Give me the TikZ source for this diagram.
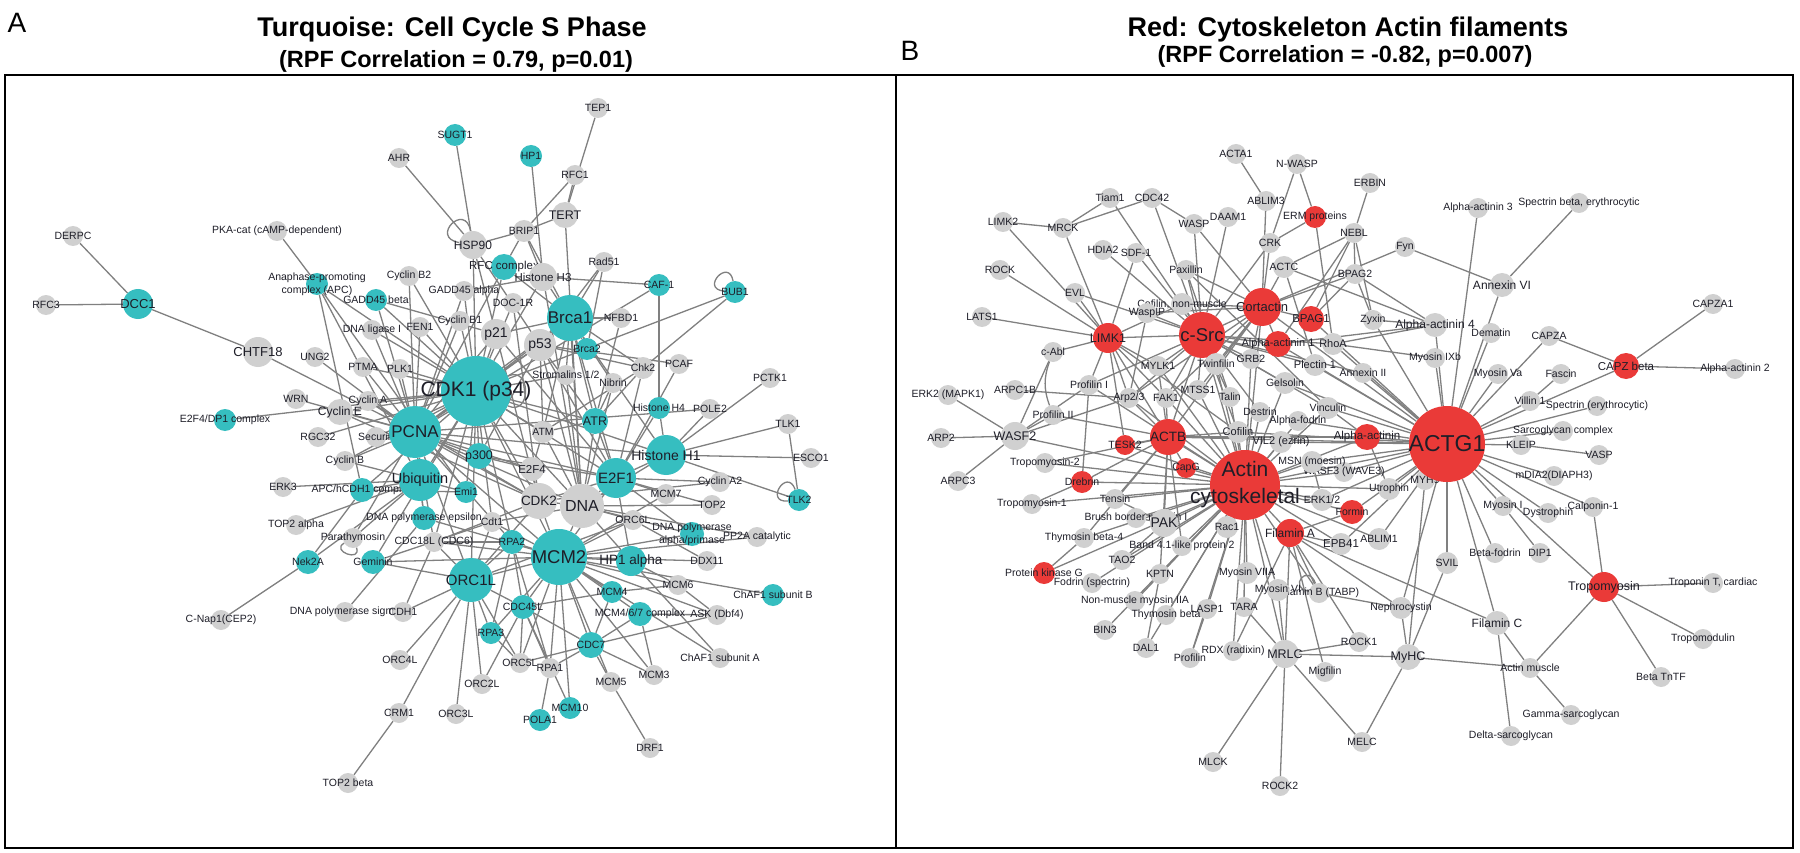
\documentclass[tikz,border=0pt]{standalone}
\usepackage{fontspec}
\setmainfont{Liberation Sans}
\usetikzlibrary{backgrounds}
\definecolor{nodegray}{RGB}{208,208,208}
\definecolor{turq}{RGB}{54,190,192}
\definecolor{redn}{RGB}{234,58,56}
\definecolor{edgegray}{RGB}{128,128,128}
\definecolor{labtext}{RGB}{30,30,40}
\tikzset{
gn/.style={shape=circle, fill=nodegray, draw=none, inner sep=0, minimum size=20pt},
tq/.style={gn, fill=turq}, rd/.style={gn, fill=redn}, sz/.style={minimum size=#1pt},
lbl/.style={font=\fontsize{10.5}{13}\selectfont, text=labtext, align=center, inner sep=0},
lab/.style={label={[lbl]center:#1}},
labf/.style 2 args={label={[lbl, font=\fontsize{#1}{#1}\selectfont]center:#2}},
link/.style={draw=edgegray, line width=1.3pt},
title/.style={font=\fontsize{27}{27}\selectfont\bfseries, anchor=base},
subtitle/.style={font=\fontsize{23.5}{24}\selectfont\bfseries, anchor=base}}

\begin{document}
\begin{tikzpicture}[x=1pt, y=-1pt]
\useasboundingbox (0,0) rectangle (1800,853);
\node[font=\fontsize{28}{28}\selectfont] (tagA) at (17,23) {A};
\node[font=\fontsize{28}{28}\selectfont] (tagB) at (910,51) {B};
\node[title] (titleA) at (452,37) {Turquoise: Cell Cycle S Phase};
\node[subtitle] (subA) at (456,68) {(RPF Correlation = 0.79, p=0.01)};
\node[title] (titleB) at (1348,37) {Red: Cytoskeleton Actin filaments};
\node[subtitle] (subB) at (1345,63) {(RPF Correlation = -0.82, p=0.007)};
\draw[line width=2.2pt] (5,75) rectangle (896,848);
\draw[line width=2.2pt] (896,75) rectangle (1793,848);

% panel A
\node[gn, lab=DERPC] (derpc) at (73,236) {};
\node[gn, lab={PKA-cat (cAMP-dependent)}] (pka) at (277,231) {};
\node[gn, lab=RFC3] (rfc3) at (46,305) {};
\node[tq, sz=30, labf={13}{DCC1}] (dcc1) at (138,304) {};
\node[tq, sz=22, lab={Anaphase-promoting\\complex (APC)}] (apc) at (317,284) {};
\node[gn, sz=30, labf={13}{CHTF18}] (chtf18) at (258,352) {};
\node[gn, lab=TEP1] (tep1) at (598,108) {};
\node[tq, sz=22, lab=SUGT1] (sugt1) at (455,135) {};
\node[tq, sz=22, lab=HP1] (hp1) at (531,156) {};
\node[gn, lab=AHR] (ahr) at (399,158) {};
\node[gn, lab=RFC1] (rfc1) at (575,175) {};
\node[gn, sz=26, labf={12.5}{TERT}] (tert) at (565,215) {};
\node[gn, sz=22, lab=BRIP1] (brip1) at (524,231) {};
\node[gn, sz=28, labf={12}{HSP90}] (hsp90) at (473,245) {};
\node[tq, sz=26, labf={11.5}{RFC complex}] (rfcc) at (504,267) {};
\node[gn, sz=28, labf={11.5}{Histone H3}] (histh3) at (543,277) {};
\node[gn, lab=Rad51] (rad51) at (604,262) {};
\node[tq, sz=22, lab=CAF-1] (caf1) at (659,285) {};
\node[tq, sz=22, lab=BUB1] (bub1) at (735,292) {};
\node[gn, lab={Cyclin B2}] (cycb2) at (409,276) {};
\node[gn, lab={GADD45 alpha}] (gadda) at (464,291) {};
\node[tq, sz=22, lab={GADD45 beta}] (gaddb) at (376,300) {};
\node[gn, lab=DOC-1R] (doc1r) at (513,303) {};
\node[tq, sz=46, labf={17}{Brca1}] (brca1) at (570,318) {};
\node[gn, lab=NFBD1] (nfbd1) at (621,318) {};
\node[gn, lab=FEN1] (fen1) at (420,327) {};
\node[gn, lab={Cyclin B1}] (cycb1) at (460,321) {};
\node[gn, lab={DNA ligase I}] (dnalig) at (372,330) {};
\node[gn, sz=30, labf={14}{p21}] (p21) at (496,334) {};
\node[gn, sz=32, labf={14}{p53}] (p53) at (540,345) {};
\node[tq, sz=22, lab=Brca2] (brca2) at (587,349) {};
\node[gn, sz=22, lab=Chk2] (chk2) at (643,368) {};
\node[gn, lab=PCAF] (pcaf) at (679,364) {};
\node[gn, lab=UNG2] (ung2) at (315,357) {};
\node[gn, lab=PTMA] (ptma) at (363,367) {};
\node[gn, lab=PLK1] (plk1) at (400,369) {};
\node[gn, lab={Stromalins 1/2}] (strom) at (566,375) {};
\node[gn, lab=Nibrin] (nibrin) at (613,383) {};
\node[gn, lab=PCTK1] (pctk1) at (770,378) {};
\node[gn, lab=WRN] (wrn) at (296,399) {};
\node[gn, lab={Cyclin A}] (cyca) at (368,401) {};
\node[gn, sz=26, labf={12}{Cyclin E}] (cyce) at (340,412) {};
\node[tq, sz=22, lab={E2F4/DP1 complex}] (e2f4dp1) at (225,420) {};
\node[gn, lab=RGC32] (rgc32) at (318,437) {};
\node[gn, lab=Securin] (securin) at (376,437) {};
\node[tq, sz=70, labf={21}{CDK1 (p34)}] (cdk1) at (476,391) {};
\node[tq, sz=52, labf={17}{PCNA}] (pcna) at (415,432) {};
\node[tq, sz=22, lab={Histone H4}] (histh4) at (659,408) {};
\node[gn, lab=POLE2] (pole2) at (710,409) {};
\node[tq, sz=26, labf={12.5}{ATR}] (atr) at (595,421) {};
\node[gn, sz=22, lab=ATM] (atm) at (543,432) {};
\node[gn, lab=TLK1] (tlk1) at (788,424) {};
\node[tq, sz=40, labf={14}{Histone H1}] (histh1) at (666,455) {};
\node[gn, lab=ESCO1] (esco1) at (811,458) {};
\node[tq, sz=26, labf={12.5}{p300}] (p300) at (479,456) {};
\node[gn, sz=24, labf={11.5}{E2F4}] (e2f4) at (532,469) {};
\node[tq, sz=40, labf={15}{E2F1}] (e2f1) at (616,478) {};
\node[gn, lab={Cyclin B}] (cycb) at (345,461) {};
\node[gn, lab=ERK3] (erk3) at (283,487) {};
\node[tq, sz=24, lab={APC/hCDH1 complex}] (apch) at (362,490) {};
\node[tq, sz=42, labf={14.5}{Ubiquitin}] (ubiq) at (420,480) {};
\node[tq, sz=22, lab=Emi1] (emi1) at (466,492) {};
\node[gn, sz=36, labf={13.5}{CDK2}] (cdk2) at (539,501) {};
\node[gn, sz=44, labf={16}{DNA}] (dna) at (582,506) {};
\node[gn, lab={Cyclin A2}] (cyca2) at (720,482) {};
\node[gn, lab=MCM7] (mcm7) at (666,494) {};
\node[gn, lab=TOP2] (top2) at (712,505) {};
\node[tq, sz=22, lab=TLK2] (tlk2) at (799,500) {};
\node[gn, lab={TOP2 alpha}] (top2a) at (296,525) {};
\node[tq, sz=24, lab={DNA polymerase epsilon}] (dnapole) at (424,518) {};
\node[gn, lab=Cdt1] (cdt1) at (492,522) {};
\node[gn, lab=ORC6L] (orc6l) at (633,520) {};
\node[tq, sz=24, lab={DNA polymerase\\alpha/primase}] (dnapola) at (692,534) {};
\node[gn, lab=Parathymosin] (parath) at (353,538) {};
\node[gn, lab={PP2A catalytic}] (pp2a) at (757,537) {};
\node[gn, lab={CDC18L (CDC6)}] (cdc18l) at (434,542) {};
\node[tq, sz=24, lab=RPA2] (rpa2) at (512,542) {};
\node[tq, sz=56, labf={18.5}{MCM2}] (mcm2) at (559,557) {};
\node[tq, sz=30, labf={13.5}{HP1 alpha}] (hp1a) at (631,561) {};
\node[gn, lab=DDX11] (ddx11) at (707,561) {};
\node[tq, sz=24, lab=Nek2A] (nek2a) at (308,562) {};
\node[tq, sz=24, lab=Geminin] (geminin) at (373,562) {};
\node[tq, sz=44, labf={15}{ORC1L}] (orc1l) at (471,580) {};
\node[tq, sz=22, lab=MCM4] (mcm4) at (612,592) {};
\node[gn, lab=MCM6] (mcm6) at (678,585) {};
\node[tq, sz=22, lab={ChAF1 subunit B}] (chaf1b) at (773,595) {};
\node[tq, sz=24, lab=CDC45L] (cdc45l) at (523,607) {};
\node[gn, lab={DNA polymerase sigma}] (dnapols) at (345,612) {};
\node[gn, lab=CDH1] (cdh1) at (403,612) {};
\node[tq, sz=24, lab={MCM4/6/7 complex}] (mcm467) at (640,614) {};
\node[gn, lab={ASK (Dbf4)}] (ask) at (717,615) {};
\node[gn, lab={C-Nap1(CEP2)}] (cnap1) at (221,620) {};
\node[tq, sz=22, lab=RPA3] (rpa3) at (491,633) {};
\node[tq, sz=26, lab=CDC7] (cdc7) at (591,645) {};
\node[gn, lab=ORC4L] (orc4l) at (400,660) {};
\node[gn, lab={ChAF1 subunit A}] (chaf1a) at (720,658) {};
\node[gn, lab=ORC5L] (orc5l) at (520,663) {};
\node[gn, lab=RPA1] (rpa1) at (550,668) {};
\node[gn, lab=MCM3] (mcm3) at (654,675) {};
\node[gn, lab=MCM5] (mcm5) at (611,682) {};
\node[gn, lab=ORC2L] (orc2l) at (482,684) {};
\node[gn, lab=CRM1] (crm1) at (399,713) {};
\node[gn, lab=ORC3L] (orc3l) at (456,714) {};
\node[tq, sz=22, lab=MCM10] (mcm10) at (570,708) {};
\node[tq, sz=22, lab=POLA1] (pola1) at (540,720) {};
\node[gn, lab={TOP2 beta}] (top2b) at (348,783) {};
\node[gn, lab=DRF1] (drf1) at (650,748) {};

% panel B
\node[gn, lab=LIMK2] (limk2) at (1003,222) {};
\node[gn, lab=MRCK] (mrck) at (1063,228) {};
\node[gn, lab=Tiam1] (tiam1) at (1110,198) {};
\node[gn, lab=HDIA2] (hdia2) at (1103,250) {};
\node[gn, lab=ROCK] (rock) at (1000,270) {};
\node[gn, lab=EVL] (evl) at (1075,293) {};
\node[gn, lab=LATS1] (lats1) at (982,317) {};
\node[gn, lab=c-Abl] (cabl) at (1053,352) {};
\node[gn, lab={ERK2 (MAPK1)}] (erk2) at (948,395) {};
\node[gn, lab=ARPC1B] (arpc1b) at (1015,390) {};
\node[gn, lab={Profilin I}] (profi) at (1089,385) {};
\node[gn, lab=ACTA1] (acta1) at (1236,154) {};
\node[gn, lab=N-WASP] (nwasp) at (1297,164) {};
\node[gn, lab=ERBIN] (erbin) at (1370,183) {};
\node[gn, lab=CDC42] (cdc42) at (1152,198) {};
\node[gn, lab=ABLIM3] (ablim3) at (1266,201) {};
\node[rd, sz=22, lab={ERM proteins}] (ermp) at (1315,217) {};
\node[gn, lab=DAAM1] (daam1) at (1228,217) {};
\node[gn, lab=WASP] (wasp) at (1194,224) {};
\node[gn, lab=NEBL] (nebl) at (1354,233) {};
\node[gn, lab=CRK] (crk) at (1270,243) {};
\node[gn, lab=Fyn] (fyn) at (1405,247) {};
\node[gn, lab=SDF-1] (sdf1) at (1136,253) {};
\node[gn, lab=Paxillin] (paxillin) at (1186,270) {};
\node[gn, sz=22, lab=ACTC] (actc) at (1284,267) {};
\node[gn, lab=BPAG2] (bpag2) at (1355,274) {};
\node[gn, sz=22, lab={Cofilin, non-muscle}] (cofnm) at (1182,304) {};
\node[gn, lab=WaspIP] (waspip) at (1147,313) {};
\node[rd, sz=38, labf={13}{Cortactin}] (cortactin) at (1262,307) {};
\node[rd, sz=26, labf={11.5}{BPAG1}] (bpag1) at (1311,319) {};
\node[gn, lab=Zyxin] (zyxin) at (1373,320) {};
\node[gn, sz=24, labf={12}{Alpha-actinin 4}] (aact4) at (1435,325) {};
\node[rd, sz=30, labf={12.5}{LIMK1}] (limk1) at (1108,338) {};
\node[rd, sz=46, labf={18.5}{c-Src}] (csrc) at (1202,335) {};
\node[rd, sz=26, labf={11}{Alpha-actinin 1}] (aact1) at (1278,344) {};
\node[gn, sz=22, labf={11}{RhoA}] (rhoa) at (1333,344) {};
\node[gn, lab=GRB2] (grb2) at (1251,359) {};
\node[gn, lab=MYLK1] (mylk1) at (1158,366) {};
\node[gn, sz=22, lab=Twinfilin] (twinf) at (1216,364) {};
\node[gn, sz=22, labf={11}{Plectin 1}] (plectin) at (1315,365) {};
\node[gn, lab={Myosin IXb}] (myoixb) at (1435,358) {};
\node[gn, lab={Annexin II}] (annii) at (1363,373) {};
\node[gn, sz=22, lab=Gelsolin] (gelsolin) at (1285,383) {};
\node[gn, lab=Arp2/3] (arp23) at (1129,398) {};
\node[gn, lab=FAK1] (fak1) at (1166,398) {};
\node[gn, lab=MTSS1] (mtss1) at (1198,390) {};
\node[gn, lab=Talin] (talin) at (1230,397) {};
\node[gn, lab=Destrin] (destrin) at (1260,412) {};
\node[gn, sz=22, lab=Vinculin] (vinculin) at (1328,408) {};
\node[gn, lab=Alpha-fodrin] (afodrin) at (1298,421) {};
\node[gn, lab={Alpha-actinin 3}] (aact3) at (1478,208) {};
\node[gn, lab={Spectrin beta, erythrocytic}] (spectb) at (1579,203) {};
\node[gn, sz=24, labf={12}{Annexin VI}] (annvi) at (1502,285) {};
\node[gn, lab=CAPZA1] (capza1) at (1713,304) {};
\node[gn, lab=Dematin] (dematin) at (1491,333) {};
\node[gn, lab=CAPZA] (capza) at (1549,336) {};
\node[rd, sz=26, labf={11.5}{CAPZ beta}] (capzb) at (1626,366) {};
\node[gn, lab={Alpha-actinin 2}] (aact2) at (1735,369) {};
\node[gn, lab={Myosin Va}] (myova) at (1498,374) {};
\node[gn, lab=Fascin] (fascin) at (1561,374) {};
\node[gn, lab={Villin 1}] (villin) at (1530,401) {};
\node[gn, lab={Spectrin (erythrocytic)}] (spectr) at (1597,406) {};
\node[gn, lab={Profilin II}] (profii) at (1053,415) {};
\node[gn, lab=ARP2] (arp2) at (941,438) {};
\node[gn, sz=28, labf={12.5}{WASF2}] (wasf2) at (1015,436) {};
\node[gn, lab=Tropomyosin-2] (tropo2) at (1045,463) {};
\node[gn, lab=ARPC3] (arpc3) at (958,481) {};
\node[rd, sz=22, lab=Drebrin] (drebrin) at (1082,482) {};
\node[gn, lab=Tropomyosin-1] (tropo1) at (1032,504) {};
\node[gn, lab=Tensin] (tensin) at (1115,499) {};
\node[gn, lab={Brush border myosin I}] (brush) at (1136,518) {};
\node[gn, lab={Thymosin beta-4}] (thyb4) at (1084,538) {};
\node[rd, sz=22, lab={Protein kinase G}] (pkg) at (1044,573) {};
\node[gn, lab={Fodrin (spectrin)}] (fodrin) at (1092,583) {};
\node[gn, lab={Non-muscle myosin IIA}] (nmm) at (1135,601) {};
\node[gn, lab=BIN3] (bin3) at (1105,630) {};
\node[rd, sz=36, labf={13.5}{ACTB}] (actb) at (1168,437) {};
\node[rd, sz=20, lab=TESK2] (tesk2) at (1125,445) {};
\node[gn, sz=22, labf={11}{Cofilin}] (cofilin) at (1238,432) {};
\node[gn, sz=22, labf={11}{VIL2 (ezrin)}] (vil2) at (1281,442) {};
\node[rd, sz=26, labf={11.5}{Alpha-actinin}] (aact) at (1367,437) {};
\node[rd, sz=20, lab=CapG] (capg) at (1186,468) {};
\node[gn, lab={WASF3 (WAVE3)}] (wasf3) at (1344,472) {};
\node[gn, sz=22, lab={MSN (moesin)}] (msn) at (1312,462) {};
\node[gn, lab=MYH9] (myh) at (1425,480) {};
\node[rd, sz=76, labf={23}{ACTG1}] (actg1) at (1447,444) {};
\node[gn, sz=22, lab=Utrophin] (utroph) at (1389,489) {};
\node[gn, sz=22, lab=ERK1/2] (erk12) at (1322,500) {};
\node[rd, sz=24, lab=Formin] (formin) at (1352,512) {};
\node[rd, sz=70, label={[lbl, font=\fontsize{21}{27}\selectfont]center:Actin\\cytoskeletal}] (actin) at (1245,485) {};
\node[gn, sz=28, labf={14}{PAK}] (pak) at (1164,523) {};
\node[gn, sz=22, lab=Rac1] (rac1) at (1227,527) {};
\node[rd, sz=28, labf={12}{Filamin A}] (filamina) at (1290,533) {};
\node[gn, sz=22, labf={11.5}{EPB41}] (epb41) at (1341,544) {};
\node[gn, sz=22, lab=ABLIM1] (ablim1) at (1379,539) {};
\node[gn, lab={Band 4.1-like protein 2}] (band41) at (1182,546) {};
\node[gn, lab=TAO2] (tao2) at (1122,560) {};
\node[gn, sz=22, lab=SVIL] (svil) at (1447,563) {};
\node[gn, lab=KPTN] (kptn) at (1160,574) {};
\node[gn, sz=22, lab={Myosin VIIA}] (myo7a) at (1247,573) {};
\node[gn, lab={Filamin B (TABP)}] (filb) at (1319,593) {};
\node[gn, sz=22, lab={Myosin VI}] (myo6) at (1278,590) {};
\node[gn, sz=22, lab=Nephrocystin] (nephro) at (1401,608) {};
\node[gn, lab=LASP1] (lasp1) at (1207,609) {};
\node[gn, lab=TARA] (tara) at (1244,607) {};
\node[gn, lab={Thymosin beta}] (thyb) at (1166,615) {};
\node[gn, lab=DAL1] (dal1) at (1146,648) {};
\node[gn, lab=ROCK1] (rock1) at (1359,642) {};
\node[gn, lab=Profilin] (profilin) at (1190,658) {};
\node[gn, lab={RDX (radixin)}] (rdx) at (1233,651) {};
\node[gn, sz=28, labf={12.5}{MRLC}] (mrlc) at (1285,654) {};
\node[gn, sz=26, labf={12.5}{MyHC}] (myhc) at (1408,657) {};
\node[gn, lab=Migfilin] (migfilin) at (1325,672) {};
\node[gn, lab=MELC] (melc) at (1362,742) {};
\node[gn, lab=MLCK] (mlck) at (1213,762) {};
\node[gn, lab=ROCK2] (rock2) at (1280,786) {};
\node[gn, lab={Sarcoglycan complex}] (sarco) at (1563,431) {};
\node[gn, lab=KLEIP] (kleip) at (1521,445) {};
\node[gn, lab=VASP] (vasp) at (1599,455) {};
\node[gn, lab={mDIA2(DIAPH3)}] (mdia2) at (1554,476) {};
\node[gn, lab={Myosin I}] (myoi) at (1503,506) {};
\node[gn, lab=Dystrophin] (dystro) at (1548,513) {};
\node[gn, lab=Calponin-1] (calpon) at (1593,507) {};
\node[gn, lab=Beta-fodrin] (bfodrin) at (1495,553) {};
\node[gn, lab=DIP1] (dip1) at (1540,553) {};
\node[rd, sz=30, labf={12.5}{Tropomyosin}] (tropom) at (1604,587) {};
\node[gn, lab={Troponin T, cardiac}] (tropT) at (1713,583) {};
\node[gn, sz=24, labf={12}{Filamin C}] (filc) at (1497,623) {};
\node[gn, lab=Tropomodulin] (tropmod) at (1703,639) {};
\node[gn, lab={Actin muscle}] (actmus) at (1530,668) {};
\node[gn, lab={Beta TnTF}] (btntf) at (1661,677) {};
\node[gn, lab=Gamma-sarcoglycan] (gsarco) at (1571,715) {};
\node[gn, lab=Delta-sarcoglycan] (dsarco) at (1511,736) {};

\begin{scope}[on background layer]
\fill[white] (0,0) rectangle (1800,853);
% panel A links
\foreach \a/\b in {derpc/dcc1, rfc3/dcc1, dcc1/chtf18, chtf18/pcna, pka/apc, apc/cdk1, apc/ubiq, apc/emi1, apc/apch,
  sugt1/hsp90, ahr/hsp90, hsp90/brip1, hsp90/cdk1, hsp90/p53, hsp90/p21, hp1/histh3, tep1/tert, rfc1/tert, rfc1/brip1,
  tert/brip1, tert/dna, brip1/rfcc, brip1/histh3, brip1/brca1, histh3/caf1, histh3/cdk1, histh3/dna, histh3/brca1,
  gadda/histh3, rad51/brca1, rad51/brca2, rad51/p53, cycb2/cdk1, cycb2/pcna, gadda/pcna, gadda/cdk1, gaddb/pcna,
  gaddb/cdk1, gaddb/p21, caf1/histh4, caf1/pcna, bub1/chk2, bub1/cdk1, rfcc/pcna, rfcc/cdk1, rfcc/brca1, doc1r/cdk2,
  doc1r/cdk1, cycb1/cdk1, cycb1/pcna, fen1/pcna, fen1/cdk1, dnalig/pcna, dnalig/cdk1, ung2/pcna, ptma/pcna, ptma/cdk1,
  plk1/cdk1, plk1/pcna, wrn/pcna, cyca/cdk1, cyca/pcna, cyca/cdk2, cyce/cdk2, cyce/pcna, cyce/cdk1, e2f4dp1/cdk1,
  rgc32/cdk1, securin/cdk1, securin/pcna, cycb/cdk1, cycb/pcna, cycb/ubiq, erk3/ubiq, apch/ubiq, apch/cdk1, apch/emi1,
  top2a/ubiq, nek2a/cnap1, nek2a/apch, nek2a/ubiq, parath/pcna, parath/ubiq, geminin/cdt1, geminin/mcm2, geminin/orc1l,
  geminin/cdk1, dnapols/dnapole, dnapole/pcna, dnapole/ubiq, dnapole/mcm2, brca1/nfbd1, brca1/brca2, brca1/p53,
  brca1/cdk1, brca1/atr, brca1/e2f1, brca1/chk2, brca1/dna, brca1/nibrin, brca1/p21, brca1/pcna, brca1/strom,
  brca1/atm, brca1/histh1, nfbd1/atr, p21/cdk1, p21/pcna, p21/cdk2, p21/e2f1, p53/cdk1, p53/atm, p53/atr, p53/chk2,
  p53/p300, p53/e2f1, p53/dna, p53/pcna, chk2/atr, chk2/e2f1, chk2/atm, pcaf/e2f1, pcaf/p53, histh4/e2f1, histh4/histh1,
  pole2/histh1, pole2/pcna, pctk1/histh1, tlk1/histh1, tlk1/tlk2, esco1/histh1, tlk2/histh1, cyca2/e2f1, cyca2/cdk2,
  mcm7/e2f1, mcm7/mcm2, top2/dna, top2/e2f1, pp2a/dna, pp2a/mcm2, ddx11/orc6l, chaf1b/mcm2, nibrin/atr, nibrin/dna,
  strom/dna, strom/cdk1, atr/e2f1, atr/atm, atr/dna, atr/cdk1, atm/e2f4, atm/dna, atm/cdk1, e2f4/cdk2, e2f4/p300,
  e2f4/pcna, e2f1/cdk2, e2f1/dna, e2f1/histh1, e2f1/mcm2, e2f1/p300, e2f1/cdk1, e2f1/pcna, histh1/dna, histh1/cdk1,
  histh1/pcna, p300/cdk1, p300/pcna, emi1/ubiq, emi1/cdk1, cdk2/dna, cdk2/cdk1, cdk2/mcm2, cdk2/pcna, cdk2/orc1l,
  dna/mcm2, dna/cdk1, dna/pcna, ubiq/pcna, ubiq/cdk1, pcna/cdk1, pcna/mcm2, pcna/orc1l, pcna/rpa2}
  \draw[link] (\a) -- (\b);
\foreach \a/\b in {mcm2/mcm4, mcm2/mcm6, mcm2/mcm467, mcm2/ask, mcm2/cdc7, mcm2/mcm3, mcm2/mcm5, mcm2/mcm10,
  mcm2/rpa1, mcm2/orc5l, mcm2/cdc45l, mcm2/rpa3, mcm2/orc1l, mcm2/rpa2, mcm2/cdc18l, mcm2/cdt1, mcm2/orc6l, mcm2/hp1a,
  mcm2/dnapola, mcm2/chaf1a, mcm2/cdk1, mcm2/ddx11, orc1l/orc4l, orc1l/orc2l, orc1l/orc3l, orc1l/orc5l, orc1l/crm1,
  orc1l/cdc45l, orc1l/rpa3, orc1l/cdc18l, orc1l/cdt1, orc1l/orc6l, orc1l/cdh1, orc1l/cdk1, orc1l/rpa2, cdc7/ask,
  cdc7/mcm467, cdc7/mcm3, cdc7/mcm5, cdc7/orc5l, cdc7/cdc45l, cdc7/mcm4, cdc7/rpa1, cdc45l/mcm4, cdc45l/rpa2,
  cdc45l/orc2l, cdc45l/rpa1, cdc45l/orc5l, rpa1/pola1, rpa1/rpa2, rpa2/rpa3, rpa3/orc5l, rpa2/cdc18l, rpa2/cdk1,
  crm1/top2b, mcm5/drf1, mcm467/mcm3, mcm467/ask, mcm4/mcm6, mcm6/hp1a, mcm6/ask, hp1a/chaf1a, hp1a/dna, hp1a/e2f1,
  dnapola/dna, dnapola/e2f1, orc6l/dna, cdt1/dna, cdt1/cdk1, cdc18l/cdk1, cdc18l/pcna, cdc18l/cdk2, cdh1/cdc18l,
  mcm10/cdc45l}
  \draw[link] (\a) -- (\b);
\draw[link] (hsp90) to[out=100, in=170, min distance=30pt] (hsp90);
\draw[link] (bub1) to[out=100, in=175, min distance=24pt] (bub1);
\draw[link] (tlk2) to[out=110, in=185, min distance=24pt] (tlk2);
\draw[link] (parath) to[out=210, in=290, min distance=16pt] (parath);
\draw[link] (cdk1) to[out=25, in=-25, min distance=26pt] (cdk1);
% panel B links
\foreach \a/\b in {limk2/mrck, limk2/limk1, mrck/limk1, mrck/tiam1, mrck/cdc42, rock/limk1, evl/limk1, lats1/limk1,
  cabl/limk1, evl/csrc, cabl/wasf2, erk2/wasf2, arpc1b/arp23, profi/limk1, profi/csrc, profi/wasf2, arp2/wasf2,
  arpc3/wasf2, wasf2/actin, wasf2/arp23, wasf2/profii, tiam1/csrc, cdc42/csrc, cdc42/wasp, hdia2/csrc, sdf1/limk1,
  sdf1/csrc, wasp/cortactin, wasp/csrc, daam1/csrc, acta1/ablim3, ablim3/cortactin, nwasp/crk, nwasp/ermp, ermp/crk,
  ermp/rhoa, erbin/nebl, nebl/bpag1, nebl/aact1, nebl/zyxin, nebl/actc, nebl/bpag2, crk/cortactin, crk/csrc,
  fyn/cortactin, fyn/annvi, actc/cortactin, actc/aact4, actc/plectin, bpag2/aact4, bpag2/zyxin, bpag2/bpag1,
  bpag2/cortactin, paxillin/csrc, paxillin/cortactin, paxillin/vinculin, paxillin/talin, cofnm/limk1, cofnm/cortactin,
  cofnm/csrc, waspip/csrc, waspip/cortactin, waspip/arp23, cortactin/csrc, cortactin/aact1, cortactin/bpag1,
  cortactin/grb2, cortactin/actin, cortactin/actb, cortactin/mtss1, cortactin/twinf, cortactin/fak1, cortactin/arp23,
  cortactin/actg1, csrc/limk1, csrc/mylk1, csrc/twinf, csrc/grb2, csrc/fak1, csrc/mtss1, csrc/talin, csrc/arp23,
  csrc/actb, csrc/actin, csrc/gelsolin, csrc/annii, csrc/rhoa, csrc/plectin, csrc/aact1, csrc/vinculin, csrc/destrin,
  csrc/cofilin, aact4/actg1, aact4/zyxin, aact4/aact1, aact4/rhoa, myoixb/actg1, myoixb/rhoa, annvi/actg1,
  spectb/annvi, aact3/actg1, dematin/actg1, capza/actg1, capza/capzb, capza1/capzb, aact2/capzb, capzb/actg1,
  fascin/villin, myova/actg1, villin/actg1, spectr/actg1, sarco/actg1, kleip/actg1, kleip/vasp, mdia2/actg1,
  calpon/actg1, myoi/actg1, dystro/actg1, dip1/myoi, bfodrin/actg1, tropom/actg1, tropom/calpon, tropom/tropT,
  tropom/tropmod, tropom/btntf, tropom/actmus, filc/actg1, filc/actmus, filc/dsarco, actmus/gsarco, actmus/myhc,
  filc/filamina, svil/actg1, svil/myhc, myh/actg1, myh/myhc, utroph/actg1, aact/actg1, wasf3/actg1, msn/actg1,
  erk12/actg1, formin/actg1, epb41/actg1, ablim1/actg1, nephro/filamina, nephro/actg1}
  \draw[link] (\a) -- (\b);
\foreach \a/\b in {actin/actb, actin/capg, actin/tesk2, actin/cofilin, actin/vil2, actin/msn, actin/wasf3,
  actin/utroph, actin/erk12, actin/formin, actin/filamina, actin/rac1, actin/pak, actin/band41, actin/tensin,
  actin/brush, actin/thyb4, actin/tao2, actin/kptn, actin/myo7a, actin/tara, actin/lasp1, actin/nmm, actin/fodrin,
  actin/thyb, actin/profilin, actin/rdx, actin/mrlc, actin/bin3, actin/dal1, actin/destrin, actin/afodrin,
  actin/vinculin, actin/gelsolin, actin/twinf, actin/talin, actin/fak1, actin/mylk1, actin/aact, actin/actg1,
  actin/epb41, actin/ablim1, actin/drebrin, actin/tropo2, actin/tropo1, actin/pkg, actin/myo6, actin/profi,
  actin/arp23, actin/mtss1, actin/grb2, actin/filb, actb/tesk2, actb/capg, actb/limk1, actb/drebrin, actb/tropo2,
  actb/profii, actb/pak, actb/tensin, actb/cofilin, actb/aact, actb/actg1, actb/fak1, actb/arp23, actb/mylk1,
  actb/band41, actb/kptn, limk1/cofilin, limk1/mylk1, limk1/arp23, limk1/fak1, limk1/tesk2, tropo1/drebrin,
  drebrin/profi, pkg/thyb4, mrlc/rock1, mrlc/myhc, mrlc/mlck, mrlc/rock2, mrlc/melc, mrlc/tara, mrlc/filamina,
  mrlc/myo6, myhc/melc, myhc/nephro, migfilin/filamina, rock1/filamina, filb/filamina, filb/nephro, rdx/filamina,
  profilin/lasp1, dal1/kptn, vil2/actg1, cofilin/actg1, gelsolin/actg1, vinculin/actg1, vinculin/aact, afodrin/actg1,
  plectin/actg1, rhoa/actg1, aact1/actg1, bpag1/actg1, zyxin/actg1, annii/actg1, msn/erk12, formin/filamina,
  utroph/aact, epb41/filamina, tensin/pak, brush/pak, tao2/pak, thyb4/actb}
  \draw[link] (\a) -- (\b);
\draw[link] (cabl) to[bend right=20] (profii);
\draw[link] (filb) to[out=110, in=170, min distance=22pt] (filb);
\end{scope}
\end{tikzpicture}
\end{document}
